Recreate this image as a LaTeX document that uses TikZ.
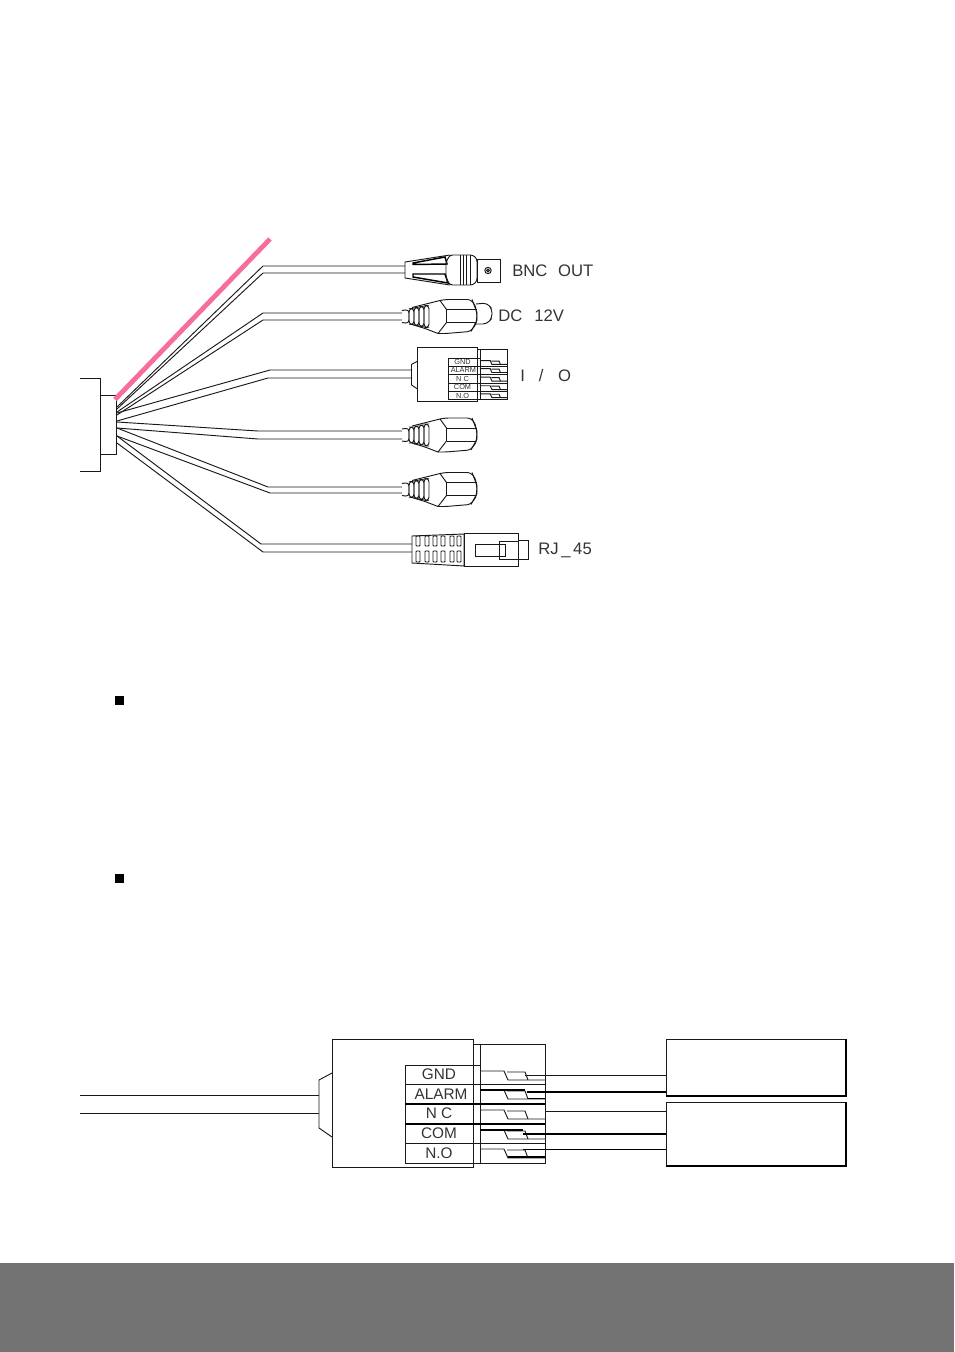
\documentclass[tikz,border=0pt]{standalone}
\usepackage{fontspec}
\setmainfont{Liberation Sans}
\definecolor{cablepink}{RGB}{247,109,156}
\definecolor{bandgray}{RGB}{115,115,115}
\tikzset{
 thin line/.style={line width=0.7pt,black!90},
 heavy line/.style={line width=1.1pt,black},
 lbl/.style={inner sep=0pt,text=black!80,font=\fontsize{12.5}{12.5}\selectfont},
 bullet/.style={fill=black,minimum size=6.5pt,inner sep=0pt}
}
% plug seen from the side, origin at the end of the cable
\newcommand{\rcaplug}[2]{
 \begin{scope}[shift={(#1,#2)},thin line]
 \draw[rounded corners=2.5](0,-6)--(7,-7)--(7,7)--(0,6);
 \foreach \rx/\rh in {7/8,12/9,17/10,22/11}
  \draw[rounded corners=2.5](\rx,-\rh) rectangle (\rx+5,\rh);
 \draw(10,-9)--(38,-16)--(44.5,-7)--(44.5,6)--(36,17)--(23,12)--(10,8);
 \draw[rounded corners=2](38,-16)--(44,-17)--(68,-17)--(73,-12)--(75,-2)--(74,8)--(68,15)--(44,17)--(36,17);
 \draw(44.5,-7)--(75,-7);
 \draw(44.5,6)--(74,6);
 \draw(70,-17)--(75,-4)--(75,4)--(69,15);
 \end{scope}
}
% terminal block, origin at top left corner of the housing
\newcommand{\ioblock}[4]{
 \begin{scope}[shift={(#1,#2)},scale=#3,thin line,
  every node/.style={lbl,font=\fontsize{#4}{#4}\selectfont}]
 \draw(0,0) rectangle (141,128);
 \draw(0,34)--(-13,41)--(-13,89)--(0,98);
 \draw(141,5)--(213,5)--(213,124)--(141,124);
 \draw(148,5)--(148,124);
 \draw(73,26) rectangle (148,124);
 \foreach \ry in {26,45,65,85,104}{
  \draw(148,\ry+6)--(172,\ry+6)--(176,\ry+15)--(213,\ry+15);
  \draw(175,\ry+7)--(193,\ry+7)--(196,\ry+15);
 }
 \foreach \ry in {45,65,85,104,124}
  \draw(73,\ry)--(213,\ry);
 \node (#1gnd) at (107,35.5) {GND};
 \node (#1alarm) at (109,55) {ALARM};
 \node (#1nc) at (107,74.5) {N C};
 \node (#1com) at (107,94.5) {COM};
 \node (#1no) at (107,114.5) {N.O};
 \end{scope}
}
\begin{document}
\begin{tikzpicture}[x=0.75pt,y=-0.75pt]
 \useasboundingbox (0,0) rectangle (954,1352);
 \fill[bandgray](0,1263) rectangle (954,1352);
 % housing
 \draw[thin line](80,378)--(100.5,378)--(100.5,471)--(80,471);
 \draw[thin line](100.5,395)--(116.5,395)--(116.5,454)--(100.5,454);
 \draw[cablepink,line width=3.6pt](115,399.5)--(270,239);
 % cables
 \draw[thin line](117,407)--(263,266)--(405,266);
 \draw[thin line](117,409)--(263,273)--(405,273);
 \draw[thin line](117,412)--(263,313)--(402,313);
 \draw[thin line](117,415)--(263,320)--(402,320);
 \draw[thin line](117,413)--(270,370)--(412,370);
 \draw[thin line](117,421)--(268,378)--(412,378);
 \draw[thin line](117,422)--(258,431)--(402,431);
 \draw[thin line](117,428)--(258,439)--(402,439);
 \draw[thin line](117,428)--(268,487)--(402,487);
 \draw[thin line](117,436)--(270,493)--(402,493);
 \draw[thin line](117,436)--(261,544)--(412,544);
 \draw[thin line](117,443)--(263,552)--(412,552);
 % BNC plug
 \draw[thin line](450,255)--(405,262)--(405,278)--(450,285);
 \draw[heavy line](413,263)--(445,257)--(447,264)--(413,264.5)--cycle;
 \draw[heavy line](413,274)--(445,274)--(448,283)--(413,277)--cycle;
 \draw[thin line,rounded corners=2](450,255)--(473,255)--(477,259)--(477,281)--(473,285)--(450,285)--(446,278)--(446,262)--cycle;
 \foreach \bx in {460,463,466,470}
  \draw[thin line](\bx,255)--(\bx,285);
 \draw[thin line](477,259.5) rectangle (500,282);
 \draw[thin line](488,270.5) circle (3.2);
 \draw[thin line](488,270.5) circle (1.4);
 % DC plug
 \rcaplug{402}{316.5}
 \draw[thin line,rounded corners=3](476,304)--(487,303)--(492,309)--(492,318)--(487,324)--(474,324);
 % I/O
 \ioblock{417}{347}{0.4255}{5.5}
 % video plugs
 \rcaplug{402}{435}
 \rcaplug{402}{489.5}
 % RJ45
 \draw[thin line](412,536)--(464,534)--(464,566)--(412,563)--cycle;
 \foreach \sx in {418,427,435,443,452,459}{
  \draw[thin line,rounded corners=0.5](\sx-2,536) rectangle (\sx+2,546);
  \draw[thin line,rounded corners=0.5](\sx-2,551) rectangle (\sx+2,562);
 }
 \draw[thin line](464,533) rectangle (518,566);
 \draw[thin line](475,544) rectangle (505,556);
 \draw[thin line](499,541) rectangle (518,559);
 \draw[thin line](518,540) rectangle (528,559);
 % labels
 \node[lbl,anchor=west] (bncout) at (512,270.5) {BNC\hspace{8pt}OUT};
 \node[lbl,anchor=west] (dcpower) at (498,316) {DC\hspace{9pt}12V};
 \node[lbl,anchor=west] (iolabel) at (520,375.5) {I\hspace{10.5pt}/\hspace{11pt}O};
 \node[lbl,anchor=base west] (rjlabel) at (538,554) {RJ\hspace{2pt}\_\hspace{2pt}45};
 % bullets
 \node[bullet] (bulleta) at (119.5,700.5) {};
 \node[bullet] (bulletb) at (119.5,878.5) {};
 % wiring
 \draw[thin line](80,1095)--(319,1095);
 \draw[thin line](80,1113)--(319,1113);
 \ioblock{332}{1039}{1}{11.5}
 \draw[heavy line](405,1104)--(545,1104);
 \draw[heavy line](405,1124)--(545,1124);
 \draw[heavy line](480,1090)--(525,1090);
 \draw[heavy line](528,1098.5)--(545,1098.5);
 \draw[heavy line](480,1130)--(523,1130);
 \draw[heavy line](508,1157)--(545,1157);
 \draw[thin line](666,1039)--(846,1039);
 \draw[thin line](666,1039)--(666,1096);
 \draw[heavy line](666,1096)--(846,1096)--(846,1039);
 \draw[thin line](666,1102)--(846,1102);
 \draw[thin line](666,1102)--(666,1166);
 \draw[heavy line](666,1166)--(846,1166)--(846,1102);
 \draw[thin line](525,1075.5)--(666,1075.5);
 \draw[heavy line](527,1092)--(666,1092);
 \draw[thin line](545,1111)--(666,1111);
 \draw[heavy line](523,1134)--(666,1134);
 \draw[heavy line](523,1149.5)--(666,1149.5);
\end{tikzpicture}
\end{document}
